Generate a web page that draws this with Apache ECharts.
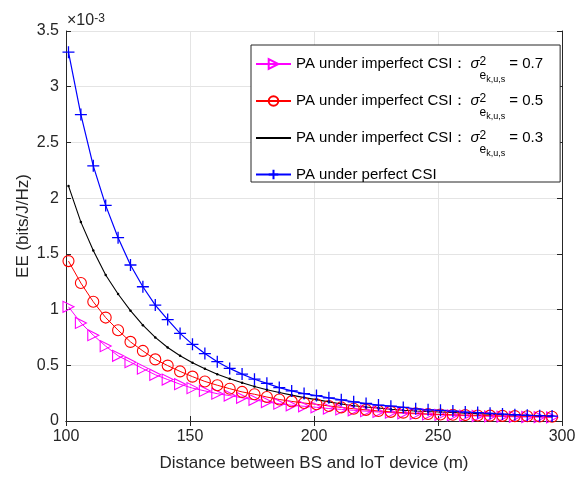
<!DOCTYPE html>
<html>
<head>
<meta charset="utf-8">
<script src="https://cdn.jsdelivr.net/npm/echarts@6/dist/echarts.min.js"></script>
<style>
  html, body { margin: 0; padding: 0; background: #fff; }
  #main { width: 579px; height: 479px; }
</style>
</head>
<body>
<div id="main"></div>
<script>
// 距离 (m)
var distance = [101, 106, 111, 116, 121, 126, 131, 136, 141, 146,
                151, 156, 161, 166, 171, 176, 181, 186, 191, 196,
                201, 206, 211, 216, 221, 226, 231, 236, 241, 246,
                251, 256, 261, 266, 271, 276, 281, 286, 291, 296];

// EE (x 10^-3 bits/J/Hz)
var eeImperfect07 = [1.025, 0.88, 0.77, 0.672, 0.585, 0.528, 0.47, 0.415, 0.372, 0.33,
                     0.295, 0.27, 0.245, 0.228, 0.208, 0.19, 0.17, 0.155, 0.141, 0.132,
                     0.123, 0.112, 0.104, 0.096, 0.088, 0.081, 0.075, 0.069, 0.064, 0.059,
                     0.055, 0.051, 0.048, 0.045, 0.042, 0.04, 0.038, 0.036, 0.034, 0.032];
var eeImperfect05 = [1.435, 1.238, 1.07, 0.928, 0.815, 0.71, 0.629, 0.553, 0.497, 0.445,
                     0.398, 0.355, 0.321, 0.29, 0.261, 0.24, 0.215, 0.193, 0.176, 0.161,
                     0.15, 0.135, 0.122, 0.11, 0.1, 0.09, 0.082, 0.075, 0.069, 0.063,
                     0.059, 0.056, 0.053, 0.05, 0.048, 0.046, 0.044, 0.042, 0.04, 0.038];
var eeImperfect03 = [2.11, 1.785, 1.53, 1.31, 1.14, 0.99, 0.86, 0.75, 0.66, 0.585,
                     0.522, 0.468, 0.42, 0.38, 0.343, 0.31, 0.281, 0.256, 0.232, 0.21,
                     0.192, 0.172, 0.153, 0.137, 0.126, 0.116, 0.105, 0.097, 0.09, 0.085,
                     0.081, 0.076, 0.071, 0.066, 0.062, 0.058, 0.054, 0.051, 0.048, 0.045];
var eePerfect = [3.31, 2.75, 2.29, 1.935, 1.645, 1.40, 1.205, 1.04, 0.91, 0.786,
                 0.688, 0.605, 0.532, 0.472, 0.421, 0.375, 0.338, 0.300, 0.270, 0.246,
                 0.228, 0.208, 0.190, 0.172, 0.157, 0.143, 0.133, 0.122, 0.109, 0.100,
                 0.096, 0.089, 0.080, 0.076, 0.069, 0.062, 0.056, 0.051, 0.048, 0.044];

var xTicks = [100, 150, 200, 250, 300];
var yTicks = [0, 0.5, 1, 1.5, 2, 2.5, 3, 3.5];

var legendLabels = {
    imp07: '{t|PA under imperfect CSI：}{s|σ}{p|2}{e|e}{k|k,u,s}{t| = 0.7}',
    imp05: '{t|PA under imperfect CSI：}{s|σ}{p|2}{e|e}{k|k,u,s}{t| = 0.5}',
    imp03: '{t|PA under imperfect CSI：}{s|σ}{p|2}{e|e}{k|k,u,s}{t| = 0.3}',
    perfect: '{t|PA under perfect CSI}'
};

function pairs(ys) {
    var out = [];
    for (var i = 0; i < distance.length; i++) {
        out.push([distance[i], ys[i]]);
    }
    return out;
}

var font = '"Liberation Sans", Arial, Helvetica, sans-serif';
var axisColor = '#262626';
var gridColor = '#e4e4e4';

var myChart = echarts.init(document.getElementById('main'));

var option = {
    backgroundColor: '#fff',
    animation: false,
    grid: { left: 66, top: 31, width: 496, height: 390 },
    textStyle: { fontFamily: font },
    graphic: [{
        type: 'text',
        left: 67,
        top: 13,
        style: {
            text: '×10{s|-3}',
            fill: axisColor,
            font: '16px ' + font,
            rich: {
                s: { fontSize: 12, fontFamily: font, fill: axisColor, verticalAlign: 'top', lineHeight: 12 }
            }
        }
    }],
    legend: {
        orient: 'vertical',
        left: 251,
        top: 45,
        data: [
            { name: 'imp07' },
            { name: 'imp05' },
            { name: 'imp03', itemStyle: { color: 'rgba(0,0,0,0)' } },
            { name: 'perfect' }
        ],
        itemWidth: 35,
        itemHeight: 12,
        itemGap: 9,
        padding: [11, 17, 0, 4],
        borderColor: axisColor,
        borderWidth: 1,
        backgroundColor: '#fff',
        selectedMode: false,
        formatter: function (name) {
            return legendLabels[name];
        },
        textStyle: {
            color: '#000',
            rich: {
                t: { fontSize: 15, fontFamily: font, lineHeight: 22, verticalAlign: 'middle' },
                s: { fontSize: 15, fontFamily: font, fontStyle: 'italic', lineHeight: 40, verticalAlign: 'middle', padding: [0, 0, 0, 3] },
                p: { fontSize: 12, fontFamily: font, verticalAlign: 'top', width: 0, padding: [12, 0, 0, 0] },
                e: { fontSize: 12, fontFamily: font, verticalAlign: 'bottom', padding: [0, 0, 2, 0] },
                k: { fontSize: 9, fontFamily: font, verticalAlign: 'bottom' }
            }
        }
    },
    xAxis: [{
        type: 'value',
        min: xTicks[0],
        max: xTicks[xTicks.length - 1],
        interval: 50,
        name: 'Distance between BS and IoT device (m)',
        nameLocation: 'middle',
        nameGap: 34,
        nameTextStyle: { fontSize: 17, color: axisColor, fontFamily: font },
        axisLine: { lineStyle: { color: axisColor, width: 1 } },
        axisTick: { inside: true, length: 5, lineStyle: { color: axisColor } },
        axisLabel: { fontSize: 16, color: axisColor, margin: 8, fontFamily: font },
        splitLine: { show: true, lineStyle: { color: gridColor, width: 1 } }
    }, {
        type: 'value',
        position: 'top',
        min: xTicks[0],
        max: xTicks[xTicks.length - 1],
        interval: 50,
        axisLine: { lineStyle: { color: axisColor, width: 1 } },
        axisTick: { inside: true, length: 5, lineStyle: { color: axisColor } },
        axisLabel: { show: false },
        splitLine: { show: false }
    }],
    yAxis: [{
        type: 'value',
        min: yTicks[0],
        max: yTicks[yTicks.length - 1],
        interval: 0.5,
        name: 'EE (bits/J/Hz)',
        nameLocation: 'middle',
        nameGap: 34,
        nameMoveOverlap: false,
        nameTextStyle: { fontSize: 17, color: axisColor, fontFamily: font },
        axisLine: { show: true, lineStyle: { color: axisColor, width: 1 } },
        axisTick: { show: true, inside: true, length: 5, lineStyle: { color: axisColor } },
        axisLabel: { fontSize: 16, color: axisColor, margin: 7, fontFamily: font },
        splitLine: { show: true, lineStyle: { color: gridColor, width: 1 } }
    }, {
        type: 'value',
        position: 'right',
        min: yTicks[0],
        max: yTicks[yTicks.length - 1],
        interval: 0.5,
        axisLine: { show: true, lineStyle: { color: axisColor, width: 1 } },
        axisTick: { show: true, inside: true, length: 5, lineStyle: { color: axisColor } },
        axisLabel: { show: false },
        splitLine: { show: false }
    }],
    series: [{
        name: 'imp07',
        type: 'line',
        data: pairs(eeImperfect07),
        symbol: 'triangle',
        symbolRotate: -90,
        symbolSize: 11,
        clip: false,
        lineStyle: { color: '#ff00ff', width: 1 },
        itemStyle: { color: 'rgba(255,255,255,0)', borderColor: '#ff00ff', borderWidth: 1.1 }
    }, {
        name: 'imp05',
        type: 'line',
        data: pairs(eeImperfect05),
        symbol: 'circle',
        symbolSize: 11,
        clip: false,
        lineStyle: { color: '#ff0000', width: 1 },
        itemStyle: { color: 'rgba(255,255,255,0)', borderColor: '#ff0000', borderWidth: 1.1 }
    }, {
        name: 'imp03',
        type: 'line',
        data: pairs(eeImperfect03),
        symbol: 'circle',
        symbolSize: 2.5,
        lineStyle: { color: '#000000', width: 1.1 },
        itemStyle: { color: '#000000' }
    }, {
        name: 'perfect',
        type: 'line',
        data: pairs(eePerfect),
        symbol: 'path://M5,0L5,10M0,5L10,5',
        symbolSize: 12,
        clip: false,
        lineStyle: { color: '#0000ff', width: 1.2 },
        itemStyle: { color: 'rgba(255,255,255,0)', borderColor: '#0000ff', borderWidth: 1.3 }
    }]
};

myChart.setOption(option);
</script>
</body>
</html>
